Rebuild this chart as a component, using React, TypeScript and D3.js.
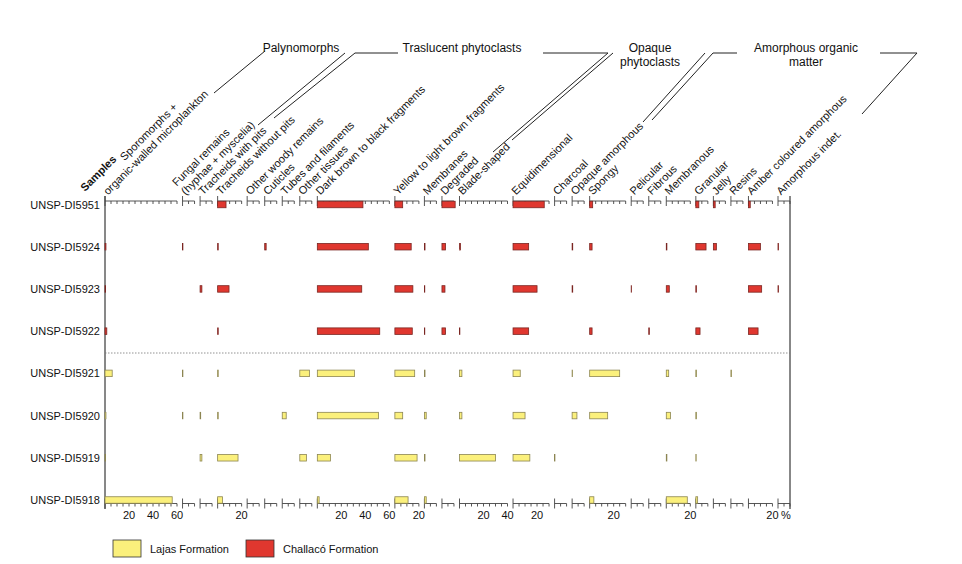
import * as d3 from 'd3';

// samples, top to bottom
const samples = ['UNSP-DI5951', 'UNSP-DI5924', 'UNSP-DI5923', 'UNSP-DI5922', 'UNSP-DI5921', 'UNSP-DI5920', 'UNSP-DI5919', 'UNSP-DI5918'];
const formation = ['Challacó', 'Challacó', 'Challacó', 'Challacó', 'Lajas', 'Lajas', 'Lajas', 'Lajas'];

const categories = [
  'Sporomorphs +\norganic-walled microplankton', 'Fungal remains\n(hyphae + myscelia)', 'Tracheids with pits',
  'Tracheids without pits', 'Other woody remains', 'Cuticles', 'Tubes and filaments', 'Other tissues',
  'Dark brown to black fragments', 'Yellow to light brown fragments', 'Membranes', 'Degraded', 'Blade-shaped',
  'Equidimensional', 'Charcoal', 'Opaque amorphous', 'Spongy', 'Pelicular', 'Fibrous', 'Membranous', 'Granular',
  'Jelly', 'Resins', 'Amber coloured amorphous', 'Amorphous indet.',
];
// axis length of each column, in %
const categoryMax = [60, 10, 10, 20, 10, 10, 10, 10, 60, 20, 10, 10, 40, 30, 10, 10, 30, 10, 10, 20, 10, 10, 10, 20, 10];

// percentages per sample, same order as categories
const di5951 = [0, 0, 0, 7, 0, 0, 0, 0, 38, 6.5, 0, 11, 0, 26, 0, 0, 2.5, 0, 0, 0, 2.5, 1.5, 0, 1.5, 0];
const di5924 = [0.8, 0.3, 0, 0.5, 0, 1.2, 0, 0, 42.5, 13.6, 0.5, 3, 0.8, 13, 0, 0.5, 2, 0, 0, 0.5, 8.5, 2.5, 0, 10, 0.5];
const di5923 = [0.5, 0, 1.5, 9.5, 0, 0, 0, 0, 37, 15, 0.3, 2.5, 0, 20, 0, 0.5, 0, 0.3, 0, 2.5, 0.5, 0, 0, 11, 0.5];
const di5922 = [1.5, 0, 0, 0.5, 0, 0, 0, 0, 52, 14.5, 0.3, 3, 0.3, 13, 0, 0, 2, 0, 0.5, 0, 3.5, 0, 0, 8, 0];
const di5921 = [6, 0.3, 0, 0.5, 0, 0, 0, 8, 31, 16.5, 0.5, 0, 2, 6, 0, 0.3, 25, 0, 0, 2, 0.5, 0, 0.5, 0, 0];
const di5920 = [0.8, 0.3, 0.5, 0.5, 0, 0, 3.3, 0, 51, 6.5, 1.5, 0, 2, 10, 0, 4, 15, 0, 0, 3.5, 0.5, 0, 0, 0, 0];
const di5919 = [0.5, 0, 1.5, 17, 0, 0, 0, 5.5, 11, 18.5, 0.5, 0, 30, 14, 0.3, 0, 0, 0, 0, 0.5, 0.3, 0, 0, 0, 0];
const di5918 = [56, 0, 0, 4, 0, 0, 0, 0, 1.5, 11, 1.5, 0, 0, 0, 0, 0, 3.5, 0, 0, 17.5, 1.5, 0, 0, 0, 0];
const sampleValues = [di5951, di5924, di5923, di5922, di5921, di5920, di5919, di5918];

const groups = [
  { lines: ['Palynomorphs'], x: 301 },
  { lines: ['Traslucent phytoclasts'], x: 462 },
  { lines: ['Opaque', 'phytoclasts'], x: 650 },
  { lines: ['Amorphous organic', 'matter'], x: 806 },
];
// bracket lines from the column labels to the group names
const leaders: [number, number][][] = [
  [[214, 93], [265, 51]],
  [[258, 125], [345, 53]],
  [[274, 118], [355, 53], [398, 53]],
  [[493, 152], [608, 53], [543, 53]],
  [[512, 140], [613, 53]],
  [[643, 122], [705, 53]],
  [[652, 120], [713, 53], [737, 53]],
  [[862, 114], [917, 53], [880, 53]],
];

const FONT = '"Liberation Sans", Arial, sans-serif';
const colors: Record<string, { fill: string; stroke: string }> = {
  Lajas: { fill: '#fbf07c', stroke: '#8c8552' },
  'Challacó': { fill: '#e0372f', stroke: '#7a2622' },
};

const X0 = 105;
const X1 = 790;
const K = 1.2; // px per %
const TOP = 201;
const BOTTOM = 503.5;

export default function App() {
  const total = d3.sum(categoryMax);
  const gap = (X1 - X0 - total * K) / (categoryMax.length - 1);
  const xs = categoryMax.map((m, i) => {
    const s = X0 + d3.sum(categoryMax.slice(0, i)) * K + i * gap;
    return d3.scaleLinear().domain([0, m]).range([s, s + m * K]);
  });
  const y = d3.scalePoint<string>().domain(samples).range([204.5, 500]);
  const barH = 6.5;
  const line = d3.line();
  const firstIndent: Record<number, number> = { 0: 36, 1: 0 };

  return (
    <svg width={962} height={564} style={{ position: 'absolute', left: 0, top: 0, background: '#fff' }}
      fontFamily={FONT}>
      {/* group headers */}
      {groups.map((g) => (
        <text key={g.lines[0]} textAnchor="middle" fontSize={12} fill="#111">
          {g.lines.map((l, j) => (
            <tspan key={l} x={g.x} y={52 + j * 14}>{l}</tspan>
          ))}
        </text>
      ))}
      {leaders.map((pts, i) => (
        <path key={i} d={line(pts) ?? ''} fill="none" stroke="#222" strokeWidth={1} />
      ))}

      <text transform="translate(85,192) rotate(-45)" fontSize={11} fontWeight={700} fill="#111">Samples</text>

      {/* column labels */}
      {categories.map((c, i) => {
        const parts = c.split('\n');
        const x0 = xs[i].range()[0];
        return (
          <text key={c} transform={`translate(${x0 + 3},195.5) rotate(-45)`} fontSize={11} fill="#111">
            {parts.length === 2 ? (
              <>
                <tspan x={firstIndent[i] ?? 0} y={-12.5}>{parts[0]}</tspan>
                <tspan x={0} y={0}>{parts[1]}</tspan>
              </>
            ) : (
              <tspan x={0} y={0}>{c}</tspan>
            )}
          </text>
        );
      })}

      {/* frame */}
      <line x1={X0} x2={X0} y1={196} y2={509} stroke="#111" />
      <line x1={X1} x2={X1} y1={196} y2={509} stroke="#111" />
      <line x1={X0} x2={X1} y1={353} y2={353} stroke="#777" strokeDasharray="1.5,1.5" strokeWidth={0.8} />

      {/* axes, top and bottom */}
      {xs.map((x, i) => {
        const ticks = d3.range(0, categoryMax[i] + 0.01, 5);
        const [a, b] = x.range();
        return (
          <g key={i} stroke="#444" strokeWidth={0.9}>
            {[TOP, BOTTOM].map((ay) => (
              <g key={ay}>
                <line x1={a} x2={b} y1={ay} y2={ay} />
                {ticks.map((t) => (
                  <line key={t} x1={x(t)} x2={x(t)} y1={t === 0 ? ay - 5 : ay} y2={t === 0 ? ay + 5 : ay + 3} />
                ))}
              </g>
            ))}
            {ticks.filter((t) => t > 0 && t % 20 === 0).map((t) => (
              <text key={t} x={x(t)} y={519} textAnchor="middle" fontSize={11} fill="#111" stroke="none">{t}</text>
            ))}
          </g>
        );
      })}
      <text x={xs[xs.length - 1].range()[0] + 3} y={519} fontSize={11} fill="#111">%</text>

      {/* sample rows */}
      {samples.map((s, r) => (
        <g key={s}>
          <text x={100} y={(y(s) ?? 0) + 4} textAnchor="end" fontSize={11} fill="#111">{s}</text>
          {sampleValues[r].map((v, i) => v > 0 && (
            <rect key={i} x={xs[i](0)} y={(y(s) ?? 0) - barH / 2} width={xs[i](v) - xs[i](0)} height={barH}
              fill={colors[formation[r]].fill} stroke={colors[formation[r]].stroke} strokeWidth={0.8} />
          ))}
        </g>
      ))}

      {/* legend */}
      {['Lajas', 'Challacó'].map((f, i) => (
        <g key={f} transform={`translate(${113 + i * 133},540)`}>
          <rect width={28} height={17} fill={colors[f].fill} stroke="#333" strokeWidth={0.8} />
          <text x={37} y={12.5} fontSize={11} fill="#111">{f} Formation</text>
        </g>
      ))}
    </svg>
  );
}
